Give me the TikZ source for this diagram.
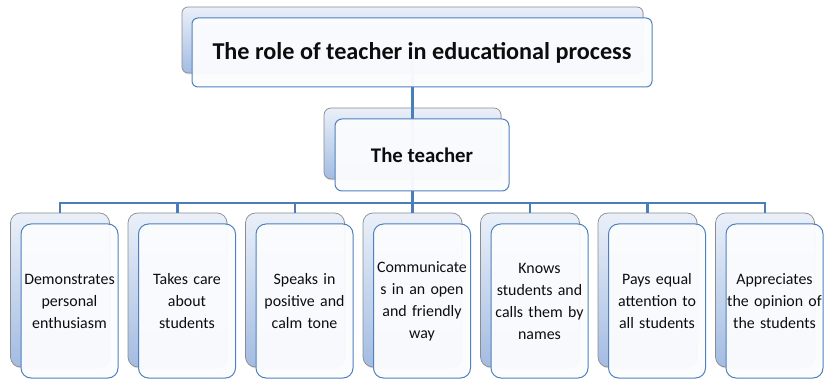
\documentclass[tikz,border=0pt]{standalone}
\usepackage{fontspec}
\setmainfont{Carlito}
\usetikzlibrary{shadows}
\definecolor{linkblue}{HTML}{4A7EBB}
\definecolor{frontedge}{HTML}{4F81BD}
\definecolor{backedge}{HTML}{8C8C8C}
\definecolor{backtop}{HTML}{EAF0F9}
\definecolor{backbot}{HTML}{A3BCE2}
\definecolor{frontfill}{HTML}{FBFCFE}
\begin{document}
\begin{tikzpicture}[x=1pt,y=-1pt,
  link/.style={draw=linkblue,line width=2.6pt},
  backcard/.style={draw=backedge,line width=0.7pt,top color=backtop,bottom color=backbot,
    inner sep=0pt,drop shadow={opacity=0.25,shadow xshift=1pt,shadow yshift=-1.5pt}},
  frontcard/.style={draw=frontedge,line width=1pt,fill=frontfill,fill opacity=0.96,
    text opacity=1,inner sep=0pt,align=center,text=black!95},
  roottext/.style={font=\fontsize{24.2}{28}\selectfont\bfseries},
  headtext/.style={font=\fontsize{20.8}{24}\selectfont\bfseries},
  leaftext/.style={font=\fontsize{15.9}{22}\selectfont},
  leafback/.style={backcard,rounded corners=10pt,minimum width=99pt,minimum height=154pt},
  leaffront/.style={frontcard,leaftext,rounded corners=10pt,minimum width=97pt,minimum height=154pt,
    text width=95pt}]
\useasboundingbox (0,0) rectangle (824,379);

% back cards of the two upper levels
\node[backcard,rounded corners=6pt,minimum width=461pt,minimum height=66pt] (rootback) at (412.5,40) {};
\node[backcard,rounded corners=7pt,minimum width=177pt,minimum height=71pt] (teacherback) at (412.5,143.5) {};

% back cards of the leaves
\foreach \i in {1,...,7} {
  \node[leafback] (leafback\i) at ({60+117.5*(\i-1)},290) {};
}

% connectors
\coordinate (bus) at (412.5,203);
\draw[link] (rootback.center) -- (teacherback.center);
\draw[link] (teacherback.center) -- (bus);
\foreach \i in {1,...,7} {
  \draw[link] (bus) -| (leafback\i.north);
}

% front cards
\node[frontcard,roottext,rounded corners=6pt,minimum width=460pt,minimum height=69pt] (root) at (422,52.5)
  {The role of teacher in educational process};
\node[frontcard,headtext,rounded corners=7pt,minimum width=174pt,minimum height=72pt] (teacher) at (422,155)
  {The teacher};

\node[leaffront] (leaf1) at (69.5,301) {Demonstrates\\personal\\enthusiasm};
\node[leaffront] (leaf2) at (187,301) {Takes care\\about\\students};
\node[leaffront] (leaf3) at (304.5,301) {Speaks in\\positive and\\calm tone};
\node[leaffront] (leaf4) at (422,301) {Communicate\\s in an open\\and friendly\\way};
\node[leaffront] (leaf5) at (539.5,301) {Knows\\students and\\calls them by\\names};
\node[leaffront] (leaf6) at (657,301) {Pays equal\\attention to\\all students};
\node[leaffront] (leaf7) at (774.5,301) {Appreciates\\the opinion of\\the students};
\end{tikzpicture}
\end{document}
